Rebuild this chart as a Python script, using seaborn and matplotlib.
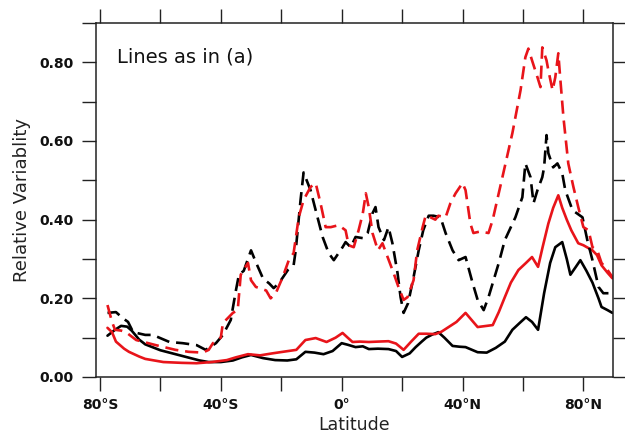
import matplotlib
matplotlib.use("Agg")
import matplotlib.pyplot as plt
import seaborn as sns
import pandas as pd
from matplotlib.ticker import MultipleLocator, FixedLocator

# ---- data ----
lat_black_solid = [-77.5, -75, -73, -71, -69.5, -67, -65, -60, -55, -50, -47, -44, -40, -36, -33, -30,
                   -26, -22, -18, -15, -12, -9, -6, -3, 0, 2, 4.6, 7, 9, 12, 15.5, 18, 20, 22.5, 24.5,
                   26.5, 28, 30, 32, 34, 36.7, 39, 41, 45, 48, 51, 54, 56.5, 59, 61, 63, 65, 67, 69,
                   70.7, 73, 74.5, 75.7, 77.5, 79, 81, 83, 85, 86, 88, 89.6]
val_black_solid = [0.105, 0.12, 0.13, 0.128, 0.118, 0.095, 0.083, 0.068, 0.058, 0.048, 0.042, 0.038, 0.038, 0.042, 0.05, 0.056,
                   0.048, 0.043, 0.042, 0.045, 0.064, 0.062, 0.058, 0.066, 0.086, 0.082, 0.076, 0.078, 0.071, 0.072, 0.071, 0.066,
                   0.051, 0.06, 0.076, 0.09, 0.10, 0.108, 0.114, 0.10, 0.079, 0.077, 0.076, 0.063, 0.062, 0.074, 0.09,
                   0.12, 0.138, 0.152, 0.14, 0.12, 0.213, 0.29, 0.33, 0.343, 0.30, 0.26, 0.28, 0.297, 0.27, 0.24, 0.20,
                   0.178, 0.17, 0.163]

lat_red_solid = [-77.5, -76, -74.7, -72, -70.4, -67, -65, -59, -53, -48, -43, -38, -35, -31, -27, -23,
                 -19.5, -15, -12, -8.6, -5, -2, 0.3, 2, 3.6, 6, 9, 12, 15.5, 18, 20.5, 23, 25.5, 28,
                 31, 33, 35.4, 38, 41, 43, 45, 48, 50, 52, 54, 56, 58.5, 61, 63, 65, 66.5, 68.4, 70,
                 71.7, 73, 74.5, 76, 78.3, 80, 83, 84.5, 86, 88, 89.6]
val_red_solid = [0.125, 0.114, 0.09, 0.072, 0.064, 0.052, 0.046, 0.038, 0.036, 0.035, 0.038, 0.043, 0.05, 0.058, 0.055, 0.06,
                 0.064, 0.069, 0.094, 0.099, 0.089, 0.10, 0.112, 0.10, 0.089, 0.09, 0.089, 0.09, 0.091, 0.085, 0.069, 0.09,
                 0.11, 0.11, 0.109, 0.115, 0.127, 0.14, 0.163, 0.145, 0.127, 0.13, 0.132, 0.165, 0.203, 0.24, 0.272, 0.29,
                 0.305, 0.28, 0.33, 0.39, 0.43, 0.462, 0.43, 0.40, 0.373, 0.34, 0.335, 0.322, 0.31, 0.284, 0.265, 0.251]

lat_black_dash = [-77.5, -74.7, -72.5, -70.7, -69, -65, -62.5, -57, -52.6, -48, -45, -41.6, -39.3, -36.7,
                  -35, -34, -32.4, -30, -28.4, -26, -24, -22.5, -20.8, -17.8, -15.9, -15.2, -13.6, -12.6,
                  -10.3, -8.6, -6.3, -4.3, -2.6, 0.3, 1.3, 3, 4.6, 7, 8.6, 10.2, 11.2, 12.2, 14, 15.5,
                  16.8, 18.5, 19.5, 20.5, 22, 23.8, 25.5, 27, 28.8, 30.4, 32.7, 34.4, 36.7, 38.7, 41,
                  43.3, 45, 47, 48.6, 52, 54, 57.5, 59.8, 60.8, 62.5, 63.5, 64.8, 66.4, 67, 67.8, 68.4,
                  70, 71.4, 73, 74, 76.4, 79.7, 81.3, 83, 85, 86.6, 88.3, 89.6]
val_black_dash = [0.163, 0.165, 0.15, 0.14, 0.114, 0.107, 0.107, 0.089, 0.086, 0.081, 0.069, 0.086, 0.107, 0.145,
                  0.22, 0.26, 0.27, 0.322, 0.292, 0.25, 0.238, 0.226, 0.238, 0.272, 0.284, 0.322, 0.45, 0.52,
                  0.475, 0.424, 0.356, 0.315, 0.297, 0.33, 0.343, 0.33, 0.356, 0.353, 0.366, 0.416, 0.432, 0.381, 0.348, 0.381,
                  0.34, 0.264, 0.203, 0.163, 0.188, 0.254, 0.322, 0.373, 0.41, 0.41, 0.406, 0.366, 0.322, 0.297, 0.305,
                  0.24, 0.196, 0.17, 0.203, 0.29, 0.348, 0.406, 0.457, 0.543, 0.508, 0.442, 0.475, 0.508, 0.533, 0.615, 0.569,
                  0.533, 0.543, 0.518, 0.475, 0.424, 0.406, 0.348, 0.297, 0.229, 0.213, 0.213, 0.203]

lat_red_dash = [-77.5, -76, -75, -73, -71.4, -68, -65, -61.5, -55, -50.6, -46, -44, -42.6, -40, -39.3,
                -36, -34.4, -33.4, -31, -30, -28.4, -25, -23.5, -21.8, -19.5, -17.5, -15.9, -14.2,
                -12.6, -10.3, -8.6, -7, -5.3, -3.6, -1, 1.3, 2.3, 4, 5.6, 7, 8, 9, 10.2, 12, 13.5,
                15.2, 17.2, 18.8, 20.5, 21.8, 23.8, 25, 26.8, 27.8, 29.4, 31, 32, 34.4, 36, 37.7, 40,
                41, 42.6, 43.6, 45.9, 48.6, 50, 53.2, 56.5, 59.2, 60.8, 61.8, 63, 64.8, 65.8, 66.4,
                67.8, 68.4, 69.8, 70.7, 71.7, 72.4, 73.4, 75, 76.7, 78.3, 80, 81.7, 83, 84.6, 86, 88, 89.6]
val_red_dash = [0.183, 0.14, 0.12, 0.118, 0.114, 0.094, 0.088, 0.081, 0.069, 0.064, 0.062, 0.069, 0.086, 0.10, 0.137,
                0.163, 0.17, 0.26, 0.29, 0.246, 0.229, 0.22, 0.20, 0.213, 0.254, 0.297, 0.315, 0.406,
                0.45, 0.483, 0.493, 0.442, 0.381, 0.381, 0.386, 0.373, 0.335, 0.33, 0.373, 0.416, 0.467, 0.43, 0.366, 0.322, 0.34,
                0.305, 0.264, 0.229, 0.196, 0.203, 0.246, 0.322, 0.381, 0.41, 0.406, 0.40, 0.41, 0.406, 0.442, 0.467, 0.493,
                0.475, 0.39, 0.366, 0.37, 0.366, 0.40, 0.508, 0.62, 0.729, 0.813, 0.835, 0.805, 0.762, 0.737, 0.838,
                0.805, 0.78, 0.729, 0.762, 0.823, 0.754, 0.66, 0.543, 0.483, 0.432, 0.381, 0.373, 0.33, 0.322, 0.29, 0.272, 0.254]

x_ticks = [-80, -60, -40, -20, 0, 20, 40, 60, 80]
x_ticklabels = ["80\u00b0S", "", "40\u00b0S", "", "0\u00b0", "", "40\u00b0N", "", "80\u00b0N"]
y_ticks = [0.0, 0.2, 0.4, 0.6, 0.8]
y_ticklabels = ["0.00", "0.20", "0.40", "0.60", "0.80"]

sns.set_theme(style="ticks")
plt.rcParams["font.family"] = ["DejaVu Sans"]

fig = plt.figure(figsize=(6.25, 4.41), dpi=100)
ax = fig.add_axes([96 / 625, 1 - 377 / 441, (613 - 96) / 625, (377 - 23) / 441])

lw = 1.9
red = "#e8141a"
sns.lineplot(x=lat_black_solid, y=val_black_solid, ax=ax, color="black", linewidth=lw, sort=False)
sns.lineplot(x=lat_red_solid, y=val_red_solid, ax=ax, color=red, linewidth=lw, sort=False)
sns.lineplot(x=lat_black_dash, y=val_black_dash, ax=ax, color="black", linewidth=lw, sort=False)
ax.lines[-1].set_dashes((5, 2.6))
sns.lineplot(x=lat_red_dash, y=val_red_dash, ax=ax, color=red, linewidth=lw, sort=False)
ax.lines[-1].set_dashes((5, 2.6))

ax.set_xlim(-81.3, 89.8)
ax.set_ylim(0, 0.9)

ax.set_xticks(x_ticks)
ax.set_xticklabels(x_ticklabels)
ax.set_yticks(y_ticks)
ax.set_yticklabels(y_ticklabels)
ax.yaxis.set_minor_locator(MultipleLocator(0.1))

for s in ax.spines.values():
    s.set_linewidth(1.1)
    s.set_color("#222222")

ax.tick_params(axis="both", which="both", direction="out", length=10, width=1.0, color="#222222",
               labelsize=10, labelcolor="#111111")
ax.tick_params(axis="y", pad=6)
ax.tick_params(axis="x", pad=5)
ax.tick_params(axis="x", top=True, bottom=True)
ax.tick_params(axis="y", which="both", left=True, right=True)
for lab in ax.get_yticklabels() + ax.get_xticklabels():
    lab.set_fontweight("bold")

ax.set_xlabel("Latitude", fontsize=12.5, color="#222222", labelpad=3)
ax.set_ylabel("Relative Variablity", fontsize=13, color="#222222", labelpad=6)

ax.text(-74.5, 0.813, "Lines as in (a)", fontsize=14, color="#111111", va="center", ha="left")

fig.savefig("out.png", dpi=100)
